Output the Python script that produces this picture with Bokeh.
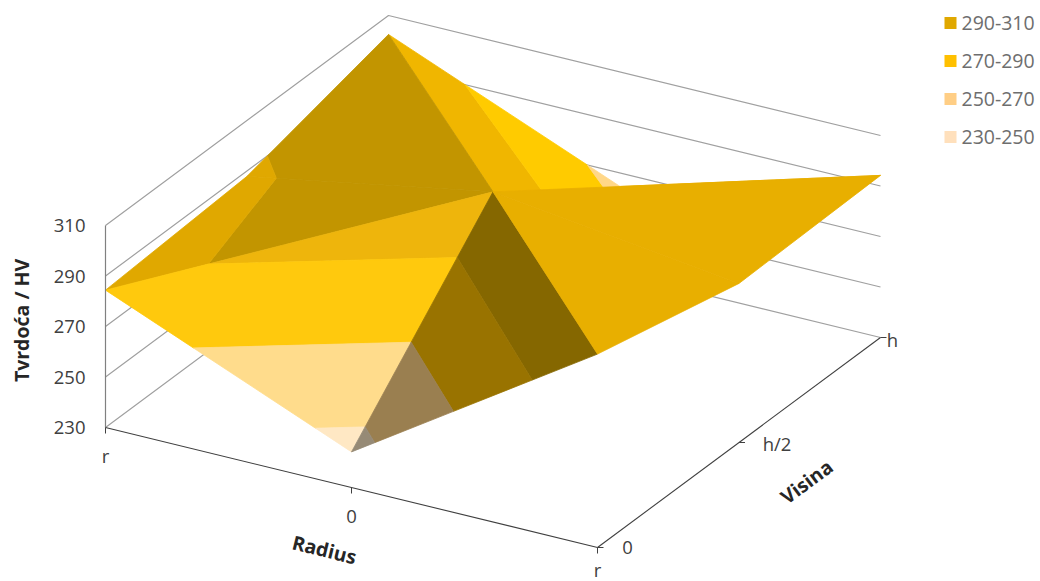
from bokeh.plotting import figure
from bokeh.models import Range1d
from bokeh.core.properties import value
from bokeh.embed import file_html
from bokeh.resources import INLINE

# ---- data ----
radius_labels = ["r", "0", "r"]
visina_labels = ["0", "h/2", "h"]
hardness_ticks = [230, 250, 270, 290, 310]
band_names = ["290-310", "270-290", "250-270", "230-250"]
band_limits = [(290, 310), (270, 290), (250, 270), (230, 250)]
band_legend_colors = ["#E0A800", "#FFC000", "#FFCE85", "#FFE0BC"]

# hardness[visina index][radius index]
hardness_v0 = [284.4, 244.1, 306.6]
hardness_v1 = [287.9, 305.5, 293.0]
hardness_v2 = [302.5, 262.3, 294.2]
hardness = [hardness_v0, hardness_v1, hardness_v2]

# surface facets, back to front: (three (radius, visina) indices, shade of each band)
facets = [
    (((1, 1), (2, 2), (1, 2)), ["#E8AF00", "#E8AF00", "#E8AF00", "#E8AF00"]),
    (((0, 2), (1, 2), (1, 1)), ["#F0B600", "#FFCB00", "#FFD788", "#FFE4BC"]),
    (((0, 1), (0, 2), (1, 1)), ["#C29500", "#E0A800", "#E0A800", "#E0A800"]),
    (((0, 0), (0, 1), (1, 1)), ["#C29500", "#E0A800", "#E0A800", "#E0A800"]),
    (((0, 0), (1, 0), (1, 1)), ["#EEB50C", "#FFC90D", "#FFDC8C", "#FFE8C4"]),
    (((1, 0), (2, 0), (1, 1)), ["#856700", "#997300", "#9A7F50", "#968A76"]),
    (((1, 1), (2, 0), (2, 1)), ["#E8AF00", "#E8AF00", "#E8AF00", "#E8AF00"]),
    (((1, 1), (2, 1), (2, 2)), ["#E8AF00", "#E8AF00", "#E8AF00", "#E8AF00"]),
]

# ---- projection of the box on the page ----
ORIGIN = (105.0, 427.0)
U_VEC = (492.0, 120.0)
V_VEC = (283.0, -210.0)
Z_SCALE = 202.0 / 80.0
Z_MIN, Z_MAX = hardness_ticks[0], hardness_ticks[-1]


def project(u, v, z):
    return (ORIGIN[0] + u * U_VEC[0] + v * V_VEC[0],
            ORIGIN[1] + u * U_VEC[1] + v * V_VEC[1] - (z - Z_MIN) * Z_SCALE)


def clip(poly, level, keep_above):
    out = []
    n = len(poly)
    for i in range(n):
        a, b = poly[i], poly[(i + 1) % n]
        ina = a[2] >= level if keep_above else a[2] <= level
        inb = b[2] >= level if keep_above else b[2] <= level
        if ina:
            out.append(a)
        if ina != inb:
            t = (level - a[2]) / (b[2] - a[2])
            out.append(tuple(a[k] + t * (b[k] - a[k]) for k in range(3)))
    return out


FONT = "Open Sans"
p = figure(width=1040, height=581, x_range=Range1d(0, 1040), y_range=Range1d(581, 0),
           output_backend="svg", toolbar_location=None, min_border=0,
           background_fill_color="white", border_fill_color="white")
p.axis.visible = False
p.grid.visible = False
p.outline_line_color = None

# ---- walls ----
GRID = "#A0A0A0"
for z in hardness_ticks:
    pts = [project(0, 0, z), project(0, 1, z), project(1, 1, z)]
    p.line([q[0] for q in pts], [q[1] for q in pts], line_color=GRID, line_width=1.2)

# ---- surface ----
for cells, shades in facets:
    tri = [(i / 2, j / 2, hardness[j][i]) for i, j in cells]
    for (lo, hi), col in zip(band_limits, shades):
        poly = clip(clip(tri, lo, True), hi, False)
        if len(poly) < 3:
            continue
        xy = [project(*q) for q in poly]
        p.patch([q[0] for q in xy], [q[1] for q in xy], fill_color=col, fill_alpha=1.0,
                line_color=col, line_alpha=1.0, line_width=0.8)

# ---- axes ----
AXIS = "#404040"
a, b = project(0, 0, Z_MIN), project(0, 0, Z_MAX)
p.line([a[0], b[0]], [a[1], b[1]], line_color="#808080", line_width=1.2)
a, b = project(0, 0, Z_MIN), project(1, 0, Z_MIN)
p.line([a[0], b[0]], [a[1], b[1]], line_color=AXIS, line_width=1.1)
a, b = project(1, 0, Z_MIN), project(1, 1, Z_MIN)
p.line([a[0], b[0]], [a[1], b[1]], line_color=AXIS, line_width=1.1)
for i in range(3):
    q = project(i / 2, 0, Z_MIN)
    p.line([q[0], q[0]], [q[1], q[1] + 6], line_color=AXIS, line_width=1)
    q = project(1, i / 2, Z_MIN)
    p.line([q[0], q[0] + 6], [q[1], q[1]], line_color=AXIS, line_width=1)


def label(x, y, txt, size="18.5px", color="#404040", align="center", angle=0.0, bold=False):
    p.text([x], [y], text=[txt], text_font=value(FONT), text_font_size=value(size),
           text_color=color, text_align=align, text_baseline="middle", angle=angle,
           text_font_style="bold" if bold else "normal")


for z in hardness_ticks:
    q = project(0, 0, z)
    label(q[0] - 20, q[1], str(z), align="right")
r_off = [(0, 28), (0, 29), (0, 22)]
for i, t in enumerate(radius_labels):
    q = project(i / 2, 0, Z_MIN)
    label(q[0] + r_off[i][0], q[1] + r_off[i][1], t)
v_off = [(30, 0), (38, 1), (12, 2)]
for i, t in enumerate(visina_labels):
    q = project(1, i / 2, Z_MIN)
    label(q[0] + v_off[i][0], q[1] + v_off[i][1], t)

label(21, 320, "Tvrdoća / HV", size="19.5px", color="#262626", angle=1.5708, bold=True)
label(324, 549, "Radius", size="19.5px", color="#262626", angle=-0.24, bold=True)
label(806, 481, "Visina", size="19.5px", color="#262626", angle=0.64, bold=True)

# ---- legend ----
for k, (name, col) in enumerate(zip(band_names, band_legend_colors)):
    y = 22.5 + 38 * k
    p.rect([950], [y], width=12, height=12, fill_color=col, line_color=None)
    label(961, y - 0.5, name, size="19.5px", color="#6E6E6E", align="left")

open("out.html", "w").write(file_html(p, INLINE))
